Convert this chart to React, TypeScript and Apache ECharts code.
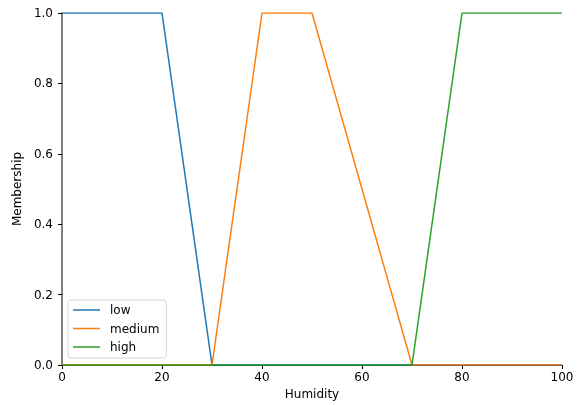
import React, { useEffect, useRef } from "react";
import * as echarts from "echarts";

const lowX = [0, 20, 30, 100];
const lowY = [1, 1, 0, 0];
const mediumX = [0, 30, 40, 50, 70, 100];
const mediumY = [0, 0, 1, 1, 0, 0];
const highX = [0, 70, 80, 100];
const highY = [0, 0, 1, 1];
const xTicks = [0, 20, 40, 60, 80, 100];
const yTicks = [0, 0.2, 0.4, 0.6, 0.8, 1.0];

const zip = (xs: number[], ys: number[]) => xs.map((x, i) => [x, ys[i]]);

export default function App() {
  const ref = useRef<HTMLDivElement>(null);
  useEffect(() => {
    const chart = echarts.init(ref.current!, undefined, { renderer: "svg" });
    const font = "DejaVu Sans";
    const fs = 12;
    chart.setOption({
      animation: false,
      textStyle: { fontFamily: font },
      grid: { left: 62, right: 19, top: 13, bottom: 40 },
      legend: {
        left: 68,
        top: 300,
        orient: "vertical",
        icon: "rect",
        itemWidth: 27,
        itemHeight: 1.5,
        itemGap: 4.5,
        padding: [3, 7, 4, 5],
        borderColor: "#d6d6d6",
        borderWidth: 1,
        borderRadius: 3,
        textStyle: {
          fontFamily: font,
          fontSize: fs,
          color: "#000",
          lineHeight: 14,
          padding: [0, 0, 0, 5],
        },
        data: ["low", "medium", "high"],
      },
      xAxis: {
        type: "value",
        min: 0,
        max: 100,
        interval: 20,
        name: "Humidity",
        nameLocation: "middle",
        nameGap: 23,
        nameTextStyle: { fontFamily: font, fontSize: fs, color: "#000" },
        axisLine: { onZero: false, lineStyle: { color: "#000", width: 1 } },
        axisTick: { show: true, length: 4, lineStyle: { color: "#000" } },
        axisLabel: {
          fontFamily: font,
          fontSize: fs,
          color: "#000",
          margin: 6,
          formatter: (v: number) => (xTicks.includes(v) ? String(v) : ""),
        },
        splitLine: { show: false },
      },
      yAxis: {
        type: "value",
        min: 0,
        max: 1,
        interval: 0.2,
        name: "Membership",
        nameLocation: "middle",
        nameGap: 34,
        nameRotate: 90,
        nameTextStyle: { fontFamily: font, fontSize: fs, color: "#000" },
        axisLine: { show: true, lineStyle: { color: "#808080", width: 2 } },
        axisTick: { show: true, length: 4, lineStyle: { color: "#000" } },
        axisLabel: {
          fontFamily: font,
          fontSize: fs,
          color: "#000",
          margin: 9,
          formatter: (v: number) => {
            const t = yTicks.find((y) => Math.abs(y - v) < 1e-9);
            return t === undefined ? "" : t.toFixed(1);
          },
        },
        splitLine: { show: false },
      },
      series: [
        { name: "low", type: "line", data: zip(lowX, lowY), color: "#1f77b4" },
        { name: "medium", type: "line", data: zip(mediumX, mediumY), color: "#ff7f0e" },
        { name: "high", type: "line", data: zip(highX, highY), color: "#2ca02c" },
      ].map((s) => ({
        ...s,
        showSymbol: false,
        symbol: "none",
        lineStyle: { width: 1.5 },
      })),
    });
    return () => chart.dispose();
  }, []);
  return (
    <div
      ref={ref}
      style={{ position: "fixed", left: 0, top: 0, width: 581, height: 405 }}
    />
  );
}
